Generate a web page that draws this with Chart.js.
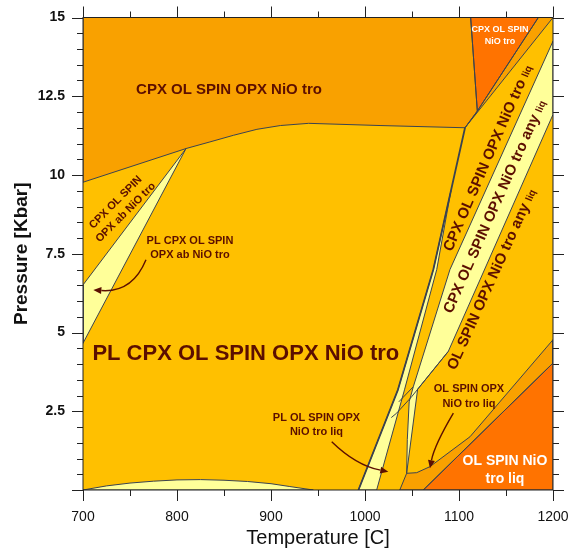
<!DOCTYPE html>
<html lang="en">
<head>
<meta charset="UTF-8">
<title>Phase diagram | Temperature vs Pressure</title>
<script src="https://cdn.jsdelivr.net/npm/chart.js"></script>
<style>
  html, body { margin: 0; padding: 0; background: #fff; }
  canvas { display: block; }
</style>
</head>
<body>
<canvas id="phaseChart" width="572" height="550"></canvas>
<script>
  // axis ticks
  var tempTicks = [700, 800, 900, 1000, 1100, 1200];
  var tempMinor = [750, 850, 950, 1050, 1150];
  var pressTicks = [0, 2.5, 5, 7.5, 10, 12.5, 15];
  var pressMinor = [0.5, 1, 1.5, 2, 3, 3.5, 4, 4.5, 5.5, 6, 6.5, 7, 8, 8.5, 9, 9.5,
                    10.5, 11, 11.5, 12, 13, 13.5, 14, 14.5];

  // field outlines, [T (C), P (kbar)]
  var fieldAll   = [[700, 0], [1200, 0], [1200, 15], [700, 15]];
  var fieldTop   = [[700, 15], [1112.4, 15], [1119.5, 12.03], [1106.4, 11.5], [1016, 11.57], [940, 11.64],
                    [910, 11.57], [885, 11.45], [860, 11.26], [835, 11.05], [809.6, 10.84], [700, 9.77]];
  var fieldStrip = [[1184.4, 15], [1200, 15], [1106.4, 11.5], [1119.5, 12.03]];
  var fieldTri   = [[1112.4, 15], [1184.4, 15], [1119.5, 12.03]];
  var fieldAbL   = [[809.6, 10.84], [700, 6.51], [700, 4.66]];
  var fieldLens  = [[700, 0], [725, 0.13], [750, 0.22], [775, 0.28], [800, 0.32], [825, 0.33], [850, 0.31],
                    [875, 0.27], [900, 0.2], [920, 0.11], [945, 0]];
  var fieldThin  = [[993, 0], [1035, 3.18], [1072.7, 7], [1091.4, 9.5], [1076.3, 7], [1042, 3.18], [1012.4, 0]];
  var fieldAny   = [[1200, 14.25], [1090.4, 7], [1051.4, 3.28], [1047, 2.8], [1045, 1.6], [1044.3, 0.53],
                    [1056, 3.2], [1088.6, 4.4], [1122.3, 6.67], [1200, 11.92]];
  var fieldLiq   = [[1037, 0], [1044.3, 0.53], [1055, 0.55], [1069, 0.74], [1111.7, 1.69], [1200, 4.77],
                    [1200, 4.03], [1062, 0]];
  var fieldMelt  = [[1062, 0], [1200, 0], [1200, 4.03]];

  // extra reaction lines
  var lineL1     = [[993, 0], [1035, 3.18], [1072.7, 7], [1106.4, 11.5]];
  var lineCross  = [[1088.6, 4.4], [1049.6, 2.96], [1033.7, 2.44], [1028, 2.3]];
  var lineCross2 = [[1051.4, 3.28], [1036, 2.8]];

  // field names
  var labelText = [
    'CPX OL SPIN OPX NiO tro',
    'PL CPX OL SPIN OPX NiO tro',
    ['CPX OL SPIN', 'OPX ab NiO tro'],
    ['PL CPX OL SPIN', 'OPX ab NiO tro'],
    ['CPX OL SPIN', 'NiO tro'],
    'CPX OL SPIN OPX NiO tro',
    'CPX OL SPIN OPX NiO tro any',
    'OL SPIN OPX NiO tro any',
    ['OL SPIN OPX', 'NiO tro liq'],
    ['PL OL SPIN OPX', 'NiO tro liq'],
    ['OL SPIN NiO', 'tro liq']
  ];
  var labelAt = [[855.3, 12.74], [873.2, 4.39], [739.4, 8.99], [813.8, 7.72], [1143.6, 14.46],
                 [1129.8, 10.55], [1137.2, 9.01], [1133.9, 6.7], [1110.6, 3.0], [948.4, 2.09], [1148.9, 0.67]];
  var labelSuffix = ['', '', '', '', '', 'liq', 'liq', 'liq', '', '', ''];

  // arrows: start, bend, tip
  var arrowFrom = [[767.0, 7.31], [964.6, 1.535], [1094, 2.44]];
  var arrowVia  = [[752.5, 6.26], [990.4, 0.785], [1073.8, 1.42]];
  var arrowTo   = [[711.0, 6.35], [1024.8, 0.58], [1069.1, 0.69]];

  var gold = '#FFC000', orange = '#F9A100', deep = '#FF7300', pale = '#FFFF99';
  var edge = '#3b4350', ink = '#5c0f00';
  var FONT = '"Liberation Sans", Arial, Helvetica, sans-serif';

  var fills = [
    [fieldAll, gold], [fieldTop, orange], [fieldStrip, orange], [fieldTri, deep],
    [fieldAbL, pale], [fieldLens, pale], [fieldThin, pale], [fieldAny, pale],
    [fieldLiq, orange], [fieldMelt, deep]
  ];
  // style per label: size, rotation (deg), colour
  var labelStyle = [
    {size: 15, rot: 0, color: ink},
    {size: 22, rot: 0, color: ink},
    {size: 11, rot: -45, color: ink},
    {size: 11, rot: 0, color: ink},
    {size: 9, rot: 0, color: '#ffffff'},
    {size: 15, rot: -66.5, color: ink},
    {size: 15, rot: -66, color: ink},
    {size: 15, rot: -65.8, color: ink},
    {size: 11, rot: 0, color: ink},
    {size: 11, rot: 0, color: ink},
    {size: 14, rot: 0, color: '#ffffff'}
  ];

  function toPts(arr) {
    return arr.map(function (p) { return {x: p[0], y: p[1]}; });
  }

  function lineSet(arr, width, close) {
    var pts = close ? arr.concat([arr[0]]) : arr;
    return {
      data: toPts(pts),
      showLine: true,
      borderColor: edge,
      borderWidth: width,
      borderJoinStyle: 'round',
      pointRadius: 0,
      fill: false
    };
  }

  var datasets = [fieldTop, fieldStrip, fieldTri, fieldAbL, fieldLens, fieldThin, fieldAny, fieldLiq, fieldMelt]
    .map(function (f) { return lineSet(f, 1, true); });
  datasets.push(lineSet(lineL1, 1.8, false));
  datasets.push(lineSet(lineCross, 1, false));
  datasets.push(lineSet(lineCross2, 1, false));

  // coloured fields, painted under the reaction lines
  var fieldPlugin = {
    id: 'fields',
    beforeDatasetsDraw: function (chart) {
      var ctx = chart.ctx, xs = chart.scales.x, ys = chart.scales.y, a = chart.chartArea;
      ctx.save();
      ctx.beginPath();
      ctx.rect(a.left, a.top, a.right - a.left, a.bottom - a.top);
      ctx.clip();
      fills.forEach(function (f) {
        ctx.beginPath();
        f[0].forEach(function (p, i) {
          var px = xs.getPixelForValue(p[0]), py = ys.getPixelForValue(p[1]);
          if (i === 0) ctx.moveTo(px, py); else ctx.lineTo(px, py);
        });
        ctx.closePath();
        ctx.fillStyle = f[1];
        ctx.fill();
      });
      ctx.restore();
    }
  };

  // labels, arrows, frame and tick marks
  var decorPlugin = {
    id: 'decor',
    afterDatasetsDraw: function (chart) {
      var ctx = chart.ctx, xs = chart.scales.x, ys = chart.scales.y;
      ctx.save();
      labelText.forEach(function (t, i) {
        var st = labelStyle[i];
        var lines = Array.isArray(t) ? t : [t];
        var px = xs.getPixelForValue(labelAt[i][0]), py = ys.getPixelForValue(labelAt[i][1]);
        ctx.save();
        ctx.translate(px, py);
        ctx.rotate(st.rot * Math.PI / 180);
        ctx.fillStyle = st.color;
        var lh = st.size * 1.3;
        var mainFont = 'bold ' + st.size + 'px ' + FONT;
        var smallFont = 'bold ' + Math.round(st.size * 0.66) + 'px ' + FONT;
        lines.forEach(function (ln, k) {
          var y = (k - (lines.length - 1) / 2) * lh + st.size * 0.36;
          ctx.font = mainFont;
          var w = ctx.measureText(ln).width;
          var total = w;
          var sp = 0, ws = 0;
          if (labelSuffix[i]) {
            sp = ctx.measureText(' ').width;
            ctx.font = smallFont;
            ws = ctx.measureText(labelSuffix[i]).width;
            total = w + sp + ws;
          }
          ctx.textBaseline = 'alphabetic';
          ctx.textAlign = 'left';
          ctx.font = mainFont;
          ctx.fillText(ln, -total / 2, y);
          if (labelSuffix[i]) {
            ctx.font = smallFont;
            ctx.fillText(labelSuffix[i], -total / 2 + w + sp, y);
          }
        });
        ctx.restore();
      });

      ctx.strokeStyle = ink;
      ctx.fillStyle = ink;
      ctx.lineWidth = 1.4;
      arrowFrom.forEach(function (f, i) {
        var x0 = xs.getPixelForValue(f[0]), y0 = ys.getPixelForValue(f[1]);
        var cx = xs.getPixelForValue(arrowVia[i][0]), cy = ys.getPixelForValue(arrowVia[i][1]);
        var x1 = xs.getPixelForValue(arrowTo[i][0]), y1 = ys.getPixelForValue(arrowTo[i][1]);
        var ang = Math.atan2(y1 - cy, x1 - cx);
        var hl = 8, hw = 3.5;
        var bx = x1 - hl * Math.cos(ang), by = y1 - hl * Math.sin(ang);
        ctx.beginPath();
        ctx.moveTo(x0, y0);
        ctx.quadraticCurveTo(cx, cy, bx, by);
        ctx.stroke();
        ctx.beginPath();
        ctx.moveTo(x1, y1);
        ctx.lineTo(bx + hw * Math.sin(ang), by - hw * Math.cos(ang));
        ctx.lineTo(bx - hw * Math.sin(ang), by + hw * Math.cos(ang));
        ctx.closePath();
        ctx.fill();
      });
      ctx.restore();
    },
    afterDraw: function (chart) {
      var ctx = chart.ctx, xs = chart.scales.x, ys = chart.scales.y, a = chart.chartArea;
      var major = 11, minor = 6;
      ctx.save();
      ctx.strokeStyle = '#222';
      ctx.lineWidth = 1;
      ctx.strokeRect(a.left, a.top, a.right - a.left, a.bottom - a.top);
      ctx.beginPath();
      function xTick(v, len) {
        var px = Math.round(xs.getPixelForValue(v)) + 0.5;
        ctx.moveTo(px, a.bottom); ctx.lineTo(px, a.bottom + len);
        ctx.moveTo(px, a.top); ctx.lineTo(px, a.top - len);
      }
      function yTick(v, len) {
        var py = Math.round(ys.getPixelForValue(v)) + 0.5;
        ctx.moveTo(a.left, py); ctx.lineTo(a.left - len, py);
        ctx.moveTo(a.right, py); ctx.lineTo(a.right + len, py);
      }
      tempTicks.forEach(function (v) { xTick(v, major); });
      tempMinor.forEach(function (v) { xTick(v, minor); });
      pressTicks.forEach(function (v) { yTick(v, major); });
      pressMinor.forEach(function (v) { yTick(v, minor); });
      ctx.stroke();
      ctx.restore();
    }
  };

  Chart.defaults.font.family = FONT;
  Chart.defaults.color = '#000';

  new Chart(document.getElementById('phaseChart'), {
    type: 'scatter',
    data: { datasets: datasets },
    plugins: [fieldPlugin, decorPlugin],
    options: {
      responsive: false,
      animation: false,
      devicePixelRatio: 1,
      events: [],
      layout: { padding: { top: 17.5, right: 19, left: 0, bottom: 0 } },
      plugins: { legend: { display: false }, tooltip: { enabled: false } },
      scales: {
        x: {
          type: 'linear',
          min: 700,
          max: 1200,
          afterFit: function (s) { s.height = 60; s.paddingLeft = 0; s.paddingRight = 0; },
          afterBuildTicks: function (s) { s.ticks = tempTicks.map(function (v) { return {value: v}; }); },
          grid: { display: false, drawTicks: false },
          border: { display: false },
          ticks: { padding: 19, font: { size: 14 }, color: '#111', callback: function (v) { return String(v); } },
          title: { display: true, text: 'Temperature [C]', font: { size: 20 }, color: '#111', padding: { top: 0, bottom: 0 } }
        },
        y: {
          type: 'linear',
          min: 0,
          max: 15,
          afterFit: function (s) { s.width = 83; s.paddingTop = 0; s.paddingBottom = 0; },
          afterBuildTicks: function (s) { s.ticks = pressTicks.map(function (v) { return {value: v}; }); },
          grid: { display: false, drawTicks: false },
          border: { display: false },
          ticks: {
            padding: 18,
            font: { size: 14, weight: 'bold' },
            color: '#111',
            callback: function (v) { return v === 0 ? '' : String(v); }
          },
          title: { display: true, text: 'Pressure [Kbar]', font: { size: 19, weight: 'bold' }, color: '#111', padding: { top: 10, bottom: 0 } }
        }
      }
    }
  });
</script>
</body>
</html>
